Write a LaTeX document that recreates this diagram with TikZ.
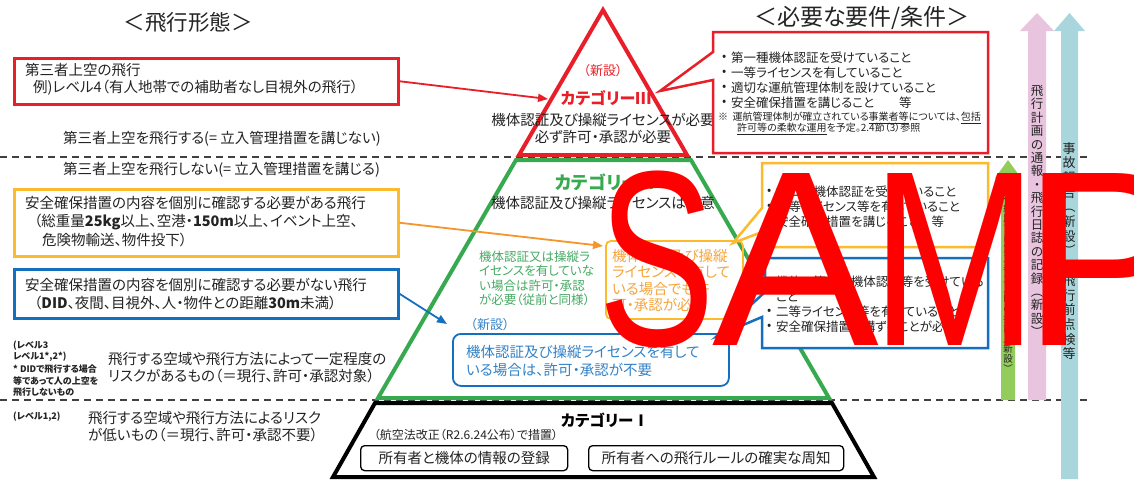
\documentclass[tikz,border=0pt]{standalone}
\usepackage{fontspec}
\setmainfont{Noto Sans CJK JP}[RawFeature=+palt]
\newfontfamily\wmfont{Liberation Sans}
\usetikzlibrary{arrows.meta}
\definecolor{myred}{RGB}{232,30,40}
\definecolor{mygreen}{RGB}{55,170,80}
\definecolor{mygreentxt}{RGB}{70,170,100}
\definecolor{myorange}{RGB}{253,186,45}
\definecolor{myorangeD}{RGB}{245,150,45}
\definecolor{myorangetxt}{RGB}{245,165,60}
\definecolor{myblue}{RGB}{20,112,190}
\definecolor{mybluetxt}{RGB}{50,130,200}
\definecolor{arrgreen}{RGB}{146,204,90}
\definecolor{arrpink}{RGB}{232,196,222}
\definecolor{arrteal}{RGB}{168,214,220}
\definecolor{txtgray}{RGB}{35,35,35}
\newcommand\fsz[2]{\fontsize{#1}{#2}\selectfont}
\begin{document}
\begin{tikzpicture}[x=1pt,y=-1pt,
  lt/.style={anchor=west, inner sep=0pt, text=txtgray},
  ct/.style={anchor=center, inner sep=0pt, text=txtgray},
  fbox/.style={draw, line width=2.5pt, anchor=north west, inner sep=0pt},
  rbx/.style={draw, rounded corners=5pt, anchor=north west, inner sep=0pt},
  dline/.style={dash pattern=on 7pt off 5pt, line width=1.2pt, draw=black!75},
  tipa/.style={-{Triangle[length=10pt,width=8pt]}},
  vt/.style={anchor=center, inner sep=0pt, align=center, text=txtgray},
  wm/.style={anchor=base, inner sep=0pt, text=red, font=\wmfont\fsz{250}{250}}
]
\useasboundingbox (0,0) rectangle (1134,479);
\fill[white] (0,0) rectangle (1134,479);

% dashed separators
\coordinate (d1a) at (0,157); \coordinate (d1b) at (1087,157);
\coordinate (d2a) at (0,400); \coordinate (d2b) at (1087,400);
\draw[dline] (d1a) -- (d1b);
\draw[dline] (d2a) -- (d2b);

% headers
\node[ct, font=\fsz{21.5}{24}] (h1) at (188,22) {＜飛行形態＞};
\node[ct, font=\fsz{23}{26}] (h2) at (862,18) {＜必要な要件/条件＞};

% pyramid
\draw[myred, line width=4pt, fill=white, line join=miter] (519,155) -- (603,10) -- (687,155) -- cycle;
\draw[mygreen, line width=4pt, fill=white] (516,160) -- (691,160) -- (829,398) -- (378,398) -- cycle;
\draw[black, line width=4pt, fill=white] (375,403) -- (832,403) -- (874,477) -- (333,477) -- cycle;

% left boxes
\node[fbox, draw=myred, minimum width=384pt, minimum height=46pt] (rbox) at (13,57) {};
\node[lt, font=\fsz{14.5}{17}] (r1) at (25,70) {第三者上空の飛行};
\node[lt, font=\fsz{14.5}{17}] (r2) at (33,88) {例)レベル4（有人地帯での補助者なし目視外の飛行）};

\node[lt, font=\fsz{14.5}{17}] (t1) at (63,139) {第三者上空を飛行する(= 立入管理措置を講じない)};
\node[lt, font=\fsz{14.5}{17}] (t2) at (63,170) {第三者上空を飛行しない(= 立入管理措置を講じる)};

\node[fbox, draw=myorange, minimum width=384pt, minimum height=67pt] (obox) at (13,188) {};
\node[lt, font=\fsz{14.5}{17}] (o1) at (25,203) {安全確保措置の内容を個別に確認する必要がある飛行};
\node[lt, font=\fsz{14.5}{17}] (o2) at (34,222) {（総重量\textbf{25kg}以上、空港・\textbf{150m}以上、イベント上空、};
\node[lt, font=\fsz{14.5}{17}] (o3) at (42,240) {危険物輸送、物件投下）};

\node[fbox, draw=myblue, minimum width=384pt, minimum height=49pt] (bbox) at (13,268) {};
\node[lt, font=\fsz{14.5}{17}] (b1) at (25,285) {安全確保措置の内容を個別に確認する必要がない飛行};
\node[lt, font=\fsz{14.5}{17}] (b2) at (34,303) {（\textbf{DID}、夜間、目視外、人・物件との距離\textbf{30m}未満）};

\node[lt, font=\bfseries\fsz{9}{11}] (s1) at (13,346) {(レベル3};
\node[lt, font=\bfseries\fsz{9}{11}] (s2) at (13,357) {レベル1*,2*)};
\node[lt, font=\bfseries\fsz{9}{11}] (s3) at (13,369) {* DIDで飛行する場合};
\node[lt, font=\bfseries\fsz{9}{11}] (s4) at (13,381) {等であって人の上空を};
\node[lt, font=\bfseries\fsz{9}{11}] (s5) at (13,392) {飛行しないもの};
\node[lt, font=\fsz{14.5}{17}] (m1) at (108,359) {飛行する空域や飛行方法によって一定程度の};
\node[lt, font=\fsz{14.5}{17}] (m2) at (108,376) {リスクがあるもの（＝現行、許可・承認対象）};

\node[lt, font=\bfseries\fsz{9}{11}] (s6) at (13,417) {(レベル1,2)};
\node[lt, font=\fsz{14.5}{17}] (l1) at (88,418) {飛行する空域や飛行方法によるリスク};
\node[lt, font=\fsz{14.5}{17}] (l2) at (88,435) {が低いもの（＝現行、許可・承認不要）};

% category III
\node[ct, text=myred, font=\fsz{13}{15}] (n3) at (603,71) {（新設）};
\node[ct, text=myred, font=\bfseries\fsz{16}{18}] (cat3) at (606,98) {カテゴリーⅢ};
\node[ct, font=\fsz{14.5}{17}] (c3a) at (603,120) {機体認証及び操縦ライセンスが必要};
\node[ct, font=\fsz{14.5}{17}] (c3b) at (603,137) {必ず許可・承認が必要};

% category II
\node[ct, text=mygreen, font=\bfseries\fsz{18}{20}] (cat2) at (606,182) {カテゴリーⅡ};
\node[ct, font=\fsz{14.5}{17}] (c2a) at (603,203) {機体認証及び操縦ライセンスは任意};
\node[anchor=north west, fill=white, rounded corners=6pt, inner sep=3pt, align=left, text=mygreentxt, font=\fsz{12.5}{14.2}] (g1) at (476,248) {機体認証又は操縦ラ\\イセンスを有していな\\い場合は許可・承認\\が必要（従前と同様）};

\node[rbx, draw=myorange, line width=1.8pt, minimum width=137pt, minimum height=78pt] (obx) at (605,240) {};
\node[anchor=north west, inner sep=0pt, align=left, text=myorangetxt, font=\fsz{14.5}{16.5}] (otx) at (612,249) {機体認証及び操縦\\ライセンスを有して\\いる場合でも許\\可・承認が必要};

\node[ct, text=mybluetxt, font=\fsz{13}{15}] (n2) at (490,325) {（新設）};
\node[rbx, draw=myblue, line width=1.8pt, rounded corners=8pt, minimum width=276pt, minimum height=52pt] (bbx) at (452,333) {};
\node[lt, text=mybluetxt, font=\fsz{14.5}{17}] (bt1) at (466,352) {機体認証及び操縦ライセンスを有して};
\node[lt, text=mybluetxt, font=\fsz{14.5}{17}] (bt2) at (466,370) {いる場合は、許可・承認が不要};

% category I
\node[ct, text=black, font=\bfseries\fsz{15.5}{18}] (cat1) at (605,420) {カテゴリーⅠ};
\node[ct, font=\fsz{12}{14}] (c1a) at (466,435) {（航空法改正（R2.6.24公布）で措置）};
\node[rbx, draw=black, line width=1.3pt, rounded corners=4pt, minimum width=207pt, minimum height=25pt, font=\fsz{14.5}{17}, text=txtgray] (reg) at (360,445) {所有者と機体の情報の登録};
\node[rbx, draw=black, line width=1.3pt, rounded corners=4pt, minimum width=255pt, minimum height=25pt, font=\fsz{14.5}{17}, text=txtgray] (rule) at (588,445) {所有者への飛行ルールの確実な周知};

% arrows from left boxes
\coordinate (c3tip) at (548,99);
\coordinate (c2tip) at (603,246);
\coordinate (nbtip) at (447,324);
\draw[myred, line width=1.8pt, tipa] (rbox.east) -- (c3tip);
\draw[myorangeD, line width=1.8pt, tipa] (obox.east) -- (c2tip);
\draw[myblue, line width=1.8pt, tipa] (bbox.east) -- (nbtip);

% right callouts
\draw[myred, line width=2.5pt, fill=white] (713,32) -- (988,32) -- (988,153) -- (713,153) -- (713,80) -- (660,91) -- (713,52) -- cycle;
\foreach \yy/\tt [count=\i] in {58/第一種機体認証を受けていること, 73/一等ライセンスを有していること, 88/適切な運航管理体制を設けていること, 103/安全確保措置を講じること　　等}{
  \node[lt, font=\fsz{12.5}{15}] (rb\i) at (722,\yy) {•};
  \node[lt, font=\fsz{12.5}{15}] (rt\i) at (731,\yy) {\tt};
}
\node[lt, font=\fsz{10}{12}] (nt1) at (718,118) {※\ \ 運航管理体制が確立されている\underline{事業者等}については、\underline{包括}};
\node[lt, font=\fsz{10}{12}] (nt2) at (737,129) {\underline{許可等の柔軟な運用}を予定。2.4節（3）参照};

\draw[myorange, line width=2.5pt, fill=white] (762,163) -- (988,163) -- (988,247) -- (762,247) -- (762,232) -- (733,243) -- (762,208) -- cycle;
\foreach \yy/\tt [count=\i] in {192/第二種機体認証を受けていること, 207/二等ライセンス等を有していること, 222/安全確保措置を講じること　等}{
  \node[lt, font=\fsz{12.5}{15}] (ob\i) at (767,\yy) {•};
  \node[lt, font=\fsz{12.5}{15}] (ot\i) at (776,\yy) {\tt};
}

\draw[myblue, line width=2.5pt, fill=white] (765,258) -- (988,258) -- (988,348) -- (762,348) -- (762,317) -- (717,336) -- (765,292) -- cycle;
\node[lt, font=\fsz{12.5}{15}] (bb1) at (767,282) {•};
\node[lt, font=\fsz{12.5}{15}] (bq1) at (776,282) {機体の第二種機体認証等を受けている};
\node[lt, font=\fsz{12.5}{15}] (bq2) at (776,297) {こと};
\node[lt, font=\fsz{12.5}{15}] (bb3) at (767,312) {•};
\node[lt, font=\fsz{12.5}{15}] (bq3) at (776,312) {二等ライセンス等を有していること};
\node[lt, font=\fsz{12.5}{15}] (bb4) at (767,327) {•};
\node[lt, font=\fsz{12.5}{15}] (bq4) at (776,327) {安全確保措置を講ずることが必要};

% vertical arrows
\fill[arrgreen] (1001,400) -- (1001,178) -- (995,178) -- (1008,160) -- (1021,178) -- (1015,178) -- (1015,400) -- cycle;
\fill[arrpink] (1028,400) -- (1028,31) -- (1020,31) -- (1037,13) -- (1054,31) -- (1046,31) -- (1046,400) -- cycle;
\fill[arrteal] (1061,479) -- (1061,31) -- (1054,31) -- (1069.5,13) -- (1085,31) -- (1078,31) -- (1078,479) -- cycle;

\node[vt, font=\fsz{9.5}{10}] (vg) at (1008,279) {飛\\行\\経\\路\\下\\に\\第\\三\\者\\立\\入\\時\\の\\措\\置\\︵\\新\\設\\︶};
\node[vt, font=\fsz{12.5}{13.4}] (vp) at (1037,211) {飛\\行\\計\\画\\の\\通\\報\\・\\飛\\行\\日\\誌\\の\\記\\録\\︵\\新\\設\\︶};
\node[vt, font=\fsz{13}{14.7}] (vq) at (1069,251) {事\\故\\報\\告\\︵\\新\\設\\︶\\・\\飛\\行\\前\\点\\検\\等};

% watermark
\node[wm] (wS) at (657,345) {\scalebox{0.7}[1]{S}};
\node[wm] (wA) at (796,345) {A};
\node[wm] (wM) at (955,345) {\scalebox{0.8}[1]{M}};
\node[wm, anchor=base west] (wP) at (1022,345) {P};
\end{tikzpicture}
\end{document}
